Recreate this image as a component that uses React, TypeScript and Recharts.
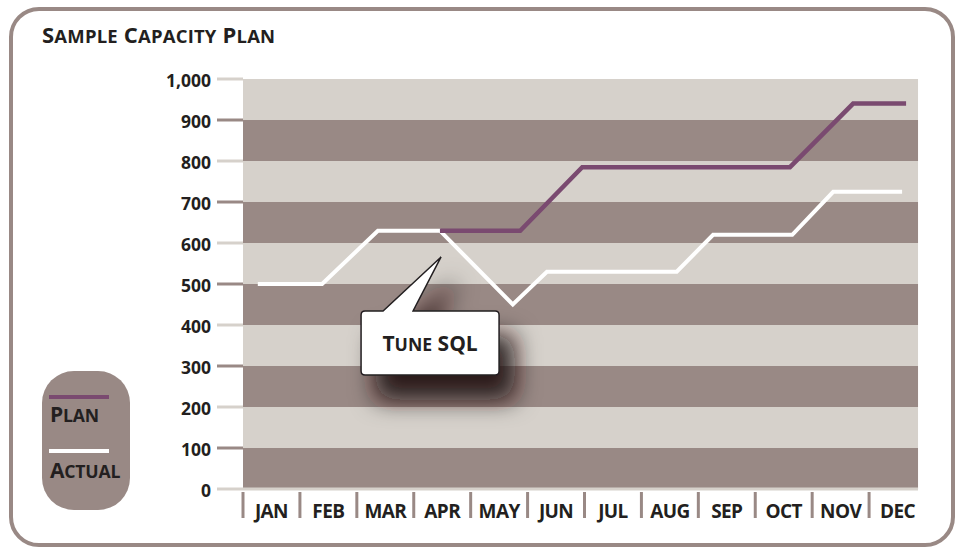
import React from 'react';
import {
  LineChart,
  Line,
  XAxis,
  YAxis,
  ReferenceArea,
  ReferenceLine,
  ReferenceDot,
  Legend,
} from 'recharts';

// months shown under the plot, one per category slot
const months = ['JAN', 'FEB', 'MAR', 'APR', 'MAY', 'JUN', 'JUL', 'AUG', 'SEP', 'OCT', 'NOV', 'DEC'];
const yTicks = [0, 100, 200, 300, 400, 500, 600, 700, 800, 900, 1000];

// line vertices, x in month units (0 = left edge of JAN)
const actualX = [0.26, 1.39, 2.37, 3.46, 4.74, 5.34, 7.62, 8.26, 9.65, 10.37, 11.58];
const actualValues = [500, 500, 630, 630, 450, 530, 530, 620, 620, 725, 725];
const planX = [3.46, 4.87, 5.96, 9.61, 10.72, 11.65];
const planValues = [630, 630, 785, 785, 940, 940];

// annotation
const calloutText = 'Tune SQL';
const calloutX = 3.48;
const calloutY = 566;

const title = 'Sample Capacity Plan';
const legendOrder = ['Plan', 'Actual'];

const actualData = actualX.map((x, i) => ({ x, value: actualValues[i] }));
const planData = planX.map((x, i) => ({ x, value: planValues[i] }));
const bands = yTicks.slice(0, -1).map((v, i) => ({ y1: v, y2: yTicks[i + 1] }));

const DARK = '#998985';
const LIGHT = '#d6d1cb';
const PURPLE = '#7a4a70';
const INK = '#231f20';
const FONT = '"Open Sans", sans-serif';
const BAND_END = 11.86;
const SLOT_PX = 683 / 12;
const SC_RATIO = 0.84;

// split text into runs: lowercase letters become smaller capitals
const capsRuns = (text: string) => {
  const runs: { t: string; small: boolean }[] = [];
  for (const ch of text) {
    const small = ch !== ch.toUpperCase();
    const last = runs[runs.length - 1];
    if (last && last.small === small) last.t += ch.toUpperCase();
    else runs.push({ t: ch.toUpperCase(), small });
  }
  return runs;
};

const SvgCaps = ({ text, size }: { text: string; size: number }) => (
  <>
    {capsRuns(text).map((r, i) => (
      <tspan key={i} fontSize={r.small ? size * SC_RATIO : size}>
        {r.t}
      </tspan>
    ))}
  </>
);

const YTick = (props: any) => {
  const { x, y, payload } = props;
  const light = (payload.value / 100) % 2 === 0;
  return (
    <g>
      <line x1={x - 26} x2={x} y1={y} y2={y} stroke={light ? LIGHT : DARK} strokeWidth={3} />
      <text x={x - 32} y={y + 8} textAnchor="end" fontFamily={FONT} fontWeight={700} fontSize={17.5} fill={INK}>
        {payload.value.toLocaleString('en-US')}
      </text>
    </g>
  );
};

const XTick = (props: any) => {
  const { x, y, index } = props;
  const sx = x - SLOT_PX / 2;
  return (
    <g>
      <line x1={sx} x2={sx} y1={y + 3} y2={y + 29} stroke={DARK} strokeWidth={3} />
      <text x={x} y={y + 29} textAnchor="middle" fontFamily={FONT} fontWeight={700} fontSize={19} letterSpacing={-0.6} fill={INK}>
        {months[index]}
      </text>
    </g>
  );
};

const Callout = (props: any) => {
  const { cx, cy } = props;
  const x0 = cx - 80;
  const x1 = cx + 58;
  const y0 = cy + 54;
  const y1 = cy + 118;
  const r = 4;
  const d = [
    `M${x0 + r},${y0}`,
    `L${cx - 58},${y0}`,
    `L${cx},${cy}`,
    `L${cx - 28},${y0}`,
    `L${x1 - r},${y0}`,
    `Q${x1},${y0} ${x1},${y0 + r}`,
    `L${x1},${y1 - r}`,
    `Q${x1},${y1} ${x1 - r},${y1}`,
    `L${x0 + r},${y1}`,
    `Q${x0},${y1} ${x0},${y1 - r}`,
    `L${x0},${y0 + r}`,
    `Q${x0},${y0} ${x0 + r},${y0}`,
    'Z',
  ].join(' ');
  return (
    <g>
      <defs>
        <filter id="calloutShadow" x="-60%" y="-60%" width="220%" height="220%">
          <feDropShadow dx={15} dy={24} stdDeviation={12} floodColor="#1a1010" floodOpacity={0.9} />
        </filter>
      </defs>
      <path d={d} fill="#fff" stroke={INK} strokeWidth={1.5} filter="url(#calloutShadow)" />
      <text x={(x0 + x1) / 2} y={cy + 94} textAnchor="middle" fontFamily={FONT} fontWeight={700} fill={INK}>
        <SvgCaps text={calloutText} size={21} />
      </text>
    </g>
  );
};

const renderLegend = (props: any) => {
  const items = [...(props.payload || [])].sort(
    (a: any, b: any) => legendOrder.indexOf(a.value) - legendOrder.indexOf(b.value)
  );
  return (
    <svg width={88} height={139} style={{ display: 'block' }}>
      <rect x={0} y={0} width={88} height={139} rx={32} fill={DARK} />
      {items.map((item: any, i: number) => (
        <g key={item.value}>
          <rect x={7} y={24 + i * 54} width={60} height={4} fill={item.color} />
          <text x={8} y={51 + i * 56} fontFamily={FONT} fontWeight={700} fill={INK} letterSpacing={-0.2}>
            <SvgCaps text={item.value} size={21} />
          </text>
        </g>
      ))}
    </svg>
  );
};

export default function App() {
  return (
    <div style={{ position: 'absolute', left: 0, top: 0, width: 962, height: 550, background: '#fff' }}>
      <div
        style={{
          position: 'absolute',
          left: 9,
          top: 7,
          width: 946,
          height: 540,
          boxSizing: 'border-box',
          border: `4px solid ${DARK}`,
          borderRadius: 30,
        }}
      />
      <svg width={340} height={60} style={{ position: 'absolute', left: 0, top: 0 }}>
        <text x={42} y={43} fontFamily={FONT} fontWeight={700} fill={INK} letterSpacing={0.2}>
          <SvgCaps text={title} size={22} />
        </text>
      </svg>
      <div style={{ position: 'absolute', left: 0, top: 0 }}>
        <LineChart width={962} height={550} margin={{ top: 79, right: 36, bottom: 0, left: 0 }}>
          {bands.map((b, i) => (
            <ReferenceArea
              key={b.y1}
              x1={0}
              x2={BAND_END}
              y1={b.y1}
              y2={b.y2}
              fill={i % 2 === 0 ? DARK : LIGHT}
              fillOpacity={1}
              stroke="none"
            />
          ))}
          <ReferenceLine
            segment={[
              { x: 0, y: 0 },
              { x: BAND_END, y: 0 },
            ]}
            stroke={LIGHT}
            strokeWidth={3}
          />
          <XAxis
            type="number"
            dataKey="x"
            domain={[0, 12]}
            ticks={months.map((_, i) => i + 0.5)}
            interval={0}
            height={61}
            tickSize={0}
            tickMargin={0}
            axisLine={false}
            tickLine={false}
            tick={<XTick />}
            allowDataOverflow
          />
          <YAxis
            type="number"
            domain={[0, 1000]}
            ticks={yTicks}
            interval={0}
            width={243}
            tickSize={0}
            tickMargin={0}
            axisLine={false}
            tickLine={false}
            tick={<YTick />}
          />
          <Line
            data={actualData}
            dataKey="value"
            name="Actual"
            type="linear"
            stroke="#ffffff"
            strokeWidth={4}
            dot={false}
            isAnimationActive={false}
          />
          <Line
            data={planData}
            dataKey="value"
            name="Plan"
            type="linear"
            stroke={PURPLE}
            strokeWidth={4.5}
            dot={false}
            isAnimationActive={false}
          />
          <ReferenceDot x={calloutX} y={calloutY} r={0} shape={<Callout />} />
          <Legend
            layout="vertical"
            align="center"
            verticalAlign="middle"
            content={renderLegend}
            wrapperStyle={{ position: 'absolute', left: 42, top: 371, width: 88, height: 139 }}
          />
        </LineChart>
      </div>
    </div>
  );
}
